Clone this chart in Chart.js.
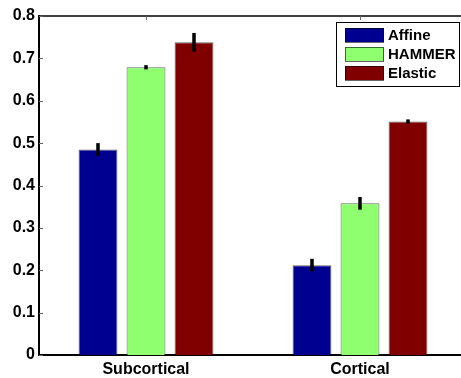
<!DOCTYPE html>
<html>
<head>
<meta charset="utf-8">
<title>Registration accuracy</title>
<script src="https://cdn.jsdelivr.net/npm/chart.js@4/dist/chart.umd.min.js"></script>
<style>
    html, body { margin: 0; padding: 0; background: #fff; overflow: hidden; }
    #wrap { width: 461px; height: 378px; overflow: hidden; position: relative; }
    #wrap canvas { position: absolute; left: 0; top: 0; }
</style>
</head>
<body>
<div id="wrap"><canvas id="chart" width="480" height="378"></canvas></div>
<script>
// chart data
var categories = ['Subcortical', 'Cortical'];
var seriesNames = ['Affine', 'HAMMER', 'Elastic'];
var affineValues = [0.485, 0.212];
var hammerValues = [0.679, 0.358];
var elasticValues = [0.738, 0.551];
var affineErrors = [0.015, 0.015];
var hammerErrors = [0.005, 0.015];
var elasticErrors = [0.022, 0.005];
var yTickValues = [0, 0.1, 0.2, 0.3, 0.4, 0.5, 0.6, 0.7, 0.8];
var yTickLabels = ['0', '0.1', '0.2', '0.3', '0.4', '0.5', '0.6', '0.7', '0.8'];

;(function (document, window) {
    'use strict';

    var FONT = 'bold 15px "Liberation Sans", Arial, Helvetica, sans-serif';
    var colors = ['#000090', '#8fff70', '#800000'];
    var errors = [affineErrors, hammerErrors, elasticErrors];

    /**
     * Error bars, inward ticks, top border and the boxed legend.
     */
    var matlabLook = {
        id: 'matlabLook',

        afterDatasetsDraw: function (chart) {
            var ctx = chart.ctx;
            var yScale = chart.scales.y;
            var xScale = chart.scales.x;
            var area = chart.chartArea;

            ctx.save();

            // error bars
            ctx.strokeStyle = '#000';
            ctx.lineWidth = 3.5;
            ctx.lineCap = 'butt';
            chart.data.datasets.forEach(function (ds, i) {
                var meta = chart.getDatasetMeta(i);
                meta.data.forEach(function (bar, j) {
                    var v = ds.data[j];
                    var e = errors[i][j];
                    ctx.beginPath();
                    ctx.moveTo(bar.x, yScale.getPixelForValue(v + e));
                    ctx.lineTo(bar.x, yScale.getPixelForValue(v - e));
                    ctx.stroke();
                });
            });

            // top border
            ctx.lineWidth = 1.5;
            ctx.beginPath();
            ctx.moveTo(area.left, area.top);
            ctx.lineTo(area.right, area.top);
            ctx.stroke();

            // inward ticks
            ctx.strokeStyle = '#666';
            ctx.lineWidth = 1;
            yTickValues.forEach(function (t) {
                var y = Math.round(yScale.getPixelForValue(t)) + 0.5;
                ctx.beginPath();
                ctx.moveTo(area.left, y);
                ctx.lineTo(area.left + 4, y);
                ctx.stroke();
            });
            categories.forEach(function (c, k) {
                var x = Math.round(xScale.getPixelForValue(k)) + 0.5;
                ctx.beginPath();
                ctx.moveTo(x, area.top);
                ctx.lineTo(x, area.top + 4);
                ctx.stroke();
            });

            // legend box
            var bx = area.right - 131;
            var by = area.top + 6;
            ctx.fillStyle = '#fff';
            ctx.fillRect(bx, by, 123, 64);
            ctx.strokeStyle = '#000';
            ctx.lineWidth = 1;
            ctx.strokeRect(bx + 0.5, by + 0.5, 123, 64);

            ctx.font = FONT;
            ctx.textBaseline = 'middle';
            ctx.textAlign = 'left';
            chart.data.datasets.forEach(function (ds, i) {
                var sy = by + 6 + i * 19;
                ctx.fillStyle = ds.backgroundColor;
                ctx.fillRect(bx + 9, sy, 39, 14);
                ctx.strokeStyle = 'rgba(0,0,0,0.6)';
                ctx.strokeRect(bx + 9.5, sy + 0.5, 38, 14);
                ctx.fillStyle = '#000';
                ctx.fillText(ds.label, bx + 52, sy + 8);
            });

            ctx.restore();
        }
    };

    var datasets = seriesNames.map(function (name, i) {
        return {
            label: name,
            data: [affineValues, hammerValues, elasticValues][i],
            backgroundColor: colors[i],
            borderColor: 'rgba(0,0,0,0.6)',
            borderWidth: 1,
            categoryPercentage: 0.673,
            barPercentage: 0.81
        };
    });

    new Chart(document.getElementById('chart'), {
        type: 'bar',
        data: {
            labels: categories,
            datasets: datasets
        },
        options: {
            responsive: false,
            animation: false,
            devicePixelRatio: 1,
            layout: {
                padding: { top: 16, right: 13, bottom: 0, left: 0 }
            },
            plugins: {
                legend: { display: false },
                tooltip: { enabled: false }
            },
            scales: {
                x: {
                    grid: { display: false, drawTicks: false },
                    border: { color: '#000', width: 2 },
                    ticks: {
                        color: '#000',
                        font: { family: '"Liberation Sans", Arial, sans-serif', size: 16, weight: 'bold' },
                        padding: 5
                    },
                    afterFit: function (scale) {
                        scale.height = 23;
                    }
                },
                y: {
                    min: 0,
                    max: 0.8,
                    grid: { display: false, drawTicks: false },
                    border: { color: '#000', width: 2 },
                    afterBuildTicks: function (scale) {
                        scale.ticks = yTickValues.map(function (v) {
                            return { value: v };
                        });
                    },
                    ticks: {
                        color: '#000',
                        font: { family: '"Liberation Sans", Arial, sans-serif', size: 16, weight: 'bold' },
                        padding: 4,
                        callback: function (value, index) {
                            return yTickLabels[index];
                        }
                    },
                    afterFit: function (scale) {
                        scale.width = 39;
                    }
                }
            }
        },
        plugins: [matlabLook]
    });

})(document, window);
</script>
</body>
</html>
